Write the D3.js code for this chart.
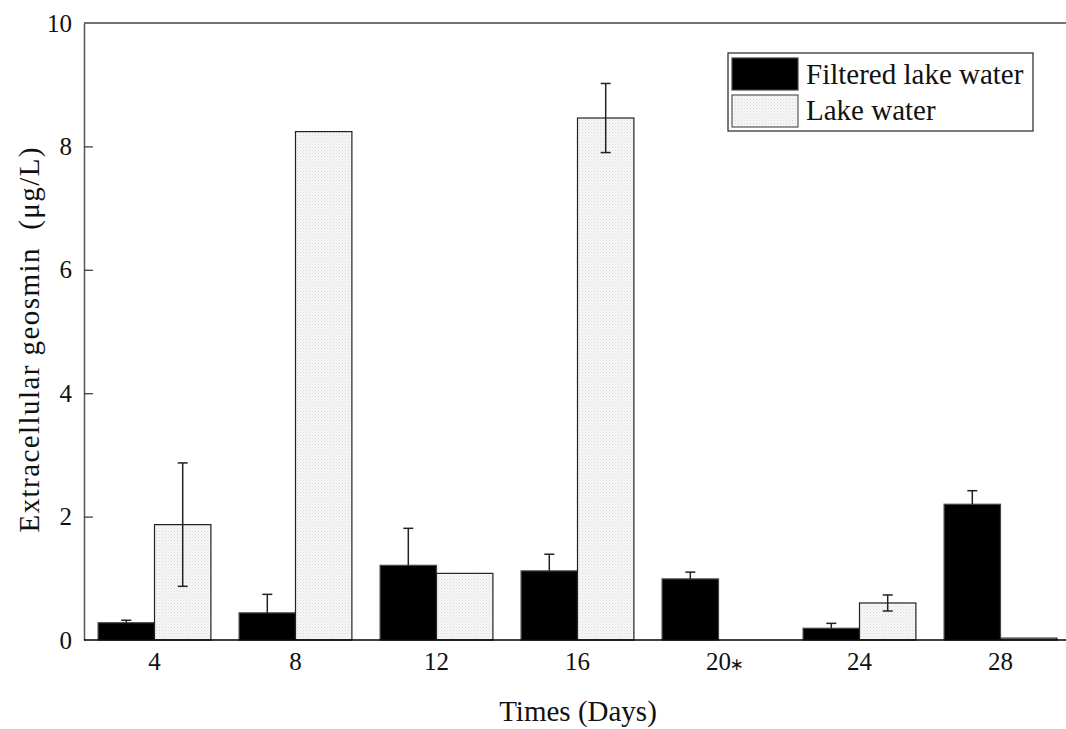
<!DOCTYPE html>
<html>
<head>
<meta charset="utf-8">
<script src="https://cdn.jsdelivr.net/npm/d3@7/dist/d3.min.js"></script>
<style>
  body { margin: 0; background: #fff; }
  text { font-family: 'Liberation Serif', 'Times New Roman', serif; fill: #111; }
</style>
</head>
<body>
<div id="chart"></div>
<script>
// grouped bar chart with error bars

const days = ['4', '8', '12', '16', '20', '24', '28']
const seriesNames = ['Filtered lake water', 'Lake water']
const filteredVals = [0.28, 0.44, 1.21, 1.12, 0.99, 0.19, 2.2]
const filteredErr = [0.04, 0.3, 0.6, 0.27, 0.11, 0.08, 0.22]
const lakeVals = [1.87, 8.24, 1.08, 8.46, 0, 0.6, 0.03]
const lakeErr = [1.0, 0, 0, 0.56, 0, 0.13, 0]
const yTicks = [0, 2, 4, 6, 8, 10]

const width = 1066
const height = 729
const margin = { top: 23, right: -5, bottom: 89, left: 84 }

const svg = d3.select('#chart').append('svg')
  .attr('width', width).attr('height', height)

// dotted fill for the light bars
const defs = svg.append('defs')
const pat = defs.append('pattern')
  .attr('id', 'dots')
  .attr('width', 3).attr('height', 3)
  .attr('patternUnits', 'userSpaceOnUse')
pat.append('rect').attr('width', 3).attr('height', 3).attr('fill', '#f7f7f7')
pat.append('rect').attr('x', 0).attr('y', 0).attr('width', 1).attr('height', 1).attr('fill', '#d9d9d9')
pat.append('rect').attr('x', 1.5).attr('y', 1.5).attr('width', 1).attr('height', 1).attr('fill', '#e4e4e4')

const x = d3.scaleBand()
  .domain(days)
  .range([margin.left, width - margin.right])
  .paddingInner(0.2)
  .paddingOuter(0.1)

const xs = d3.scaleBand()
  .domain(seriesNames)
  .range([0, x.bandwidth()])

const y = d3.scaleLinear()
  .domain([0, 10])
  .range([height - margin.bottom, margin.top])

const rows = days.map((d, i) => [
  { day: d, s: seriesNames[0], v: filteredVals[i], e: filteredErr[i] },
  { day: d, s: seriesNames[1], v: lakeVals[i], e: lakeErr[i] }
]).flat()

// bars
const bars = svg.append('g').attr('class', 'bars')
bars.selectAll('rect')
  .data(rows.filter(r => r.v > 0))
  .join('rect')
  .attr('x', d => x(d.day) + xs(d.s))
  .attr('y', d => y(d.v))
  .attr('width', xs.bandwidth())
  .attr('height', d => y(0) - y(d.v))
  .attr('fill', d => d.s === seriesNames[0] ? '#000' : 'url(#dots)')
  .attr('stroke', d => d.s === seriesNames[0] ? '#444' : '#222')
  .attr('stroke-width', 1.2)

// error bars (black bars only show the upper half)
const eg = svg.append('g').attr('class', 'errors')
  .attr('stroke', '#222').attr('stroke-width', 1.5)
const errRows = rows.filter(r => r.e > 0)
errRows.forEach(r => {
  const cx = x(r.day) + xs(r.s) + xs.bandwidth() / 2
  const both = r.s === seriesNames[1]
  const lo = both ? y(Math.max(0, r.v - r.e)) : y(r.v)
  const hi = y(r.v + r.e)
  eg.append('line').attr('x1', cx).attr('x2', cx).attr('y1', lo).attr('y2', hi)
  eg.append('line').attr('x1', cx - 5).attr('x2', cx + 5).attr('y1', hi).attr('y2', hi)
  if (both) {
    eg.append('line').attr('x1', cx - 5).attr('x2', cx + 5).attr('y1', lo).attr('y2', lo)
  }
})

// y axis
const yg = svg.append('g')
  .attr('transform', 'translate(' + margin.left + ',0)')
  .call(d3.axisLeft(y).tickValues(yTicks).tickSizeInner(-9).tickSizeOuter(0).tickPadding(12))
yg.attr('font-family', null)
yg.select('.domain').attr('stroke', '#555').attr('stroke-width', 1.5)
yg.selectAll('.tick line').attr('stroke', '#333').attr('stroke-width', 1.2)
yg.selectAll('.tick line').filter(d => d === 0 || d === 10).remove()
yg.selectAll('.tick text')
  .style('font-size', '25px')
  .style('font-family', "'Liberation Serif', serif")
  .attr('fill', '#111')

// x axis
const xg = svg.append('g')
  .attr('transform', 'translate(0,' + y(0) + ')')
  .call(d3.axisBottom(x).tickSize(0).tickPadding(12))
xg.attr('font-family', null)
xg.select('.domain').remove()
xg.selectAll('.tick text')
  .style('font-size', '25px')
  .style('font-family', "'Liberation Serif', serif")
  .attr('fill', '#111')
xg.selectAll('.tick').filter(d => d === '20')
  .append('text')
  .attr('x', 18).attr('y', 30)
  .style('font-size', '17px')
  .style('font-family', "'DejaVu Sans', sans-serif")
  .attr('fill', '#111')
  .text('∗')

// frame lines: top and bottom
svg.append('line')
  .attr('x1', margin.left).attr('x2', width)
  .attr('y1', y(10)).attr('y2', y(10))
  .attr('stroke', '#444').attr('stroke-width', 1.5)
svg.append('line')
  .attr('x1', margin.left).attr('x2', width)
  .attr('y1', y(0)).attr('y2', y(0))
  .attr('stroke', '#000').attr('stroke-width', 1.5)

// axis titles
svg.append('text')
  .attr('x', 578).attr('y', 721)
  .attr('text-anchor', 'middle')
  .attr('font-size', 29)
  .text('Times (Days)')
svg.append('text')
  .attr('transform', 'translate(39,340) rotate(-90)')
  .attr('text-anchor', 'middle')
  .attr('font-size', 29)
  .attr('textLength', 385)
  .attr('lengthAdjust', 'spacing')
  .style('white-space', 'pre')
  .text('Extracellular geosmin  (μg/L)')

// legend
const lg = svg.append('g').attr('class', 'legend')
lg.append('rect')
  .attr('x', 728).attr('y', 53).attr('width', 305).attr('height', 78)
  .attr('fill', '#fff').attr('stroke', '#222').attr('stroke-width', 1.2)
seriesNames.forEach((s, i) => {
  lg.append('rect')
    .attr('x', 732).attr('y', 58 + i * 37).attr('width', 66).attr('height', 32)
    .attr('fill', i === 0 ? '#000' : 'url(#dots)')
    .attr('stroke', i === 0 ? '#444' : '#555').attr('stroke-width', 1.2)
  lg.append('text')
    .attr('x', 806).attr('y', 84 + i * 36)
    .attr('font-size', 29)
    .text(s)
})
</script>
</body>
</html>
